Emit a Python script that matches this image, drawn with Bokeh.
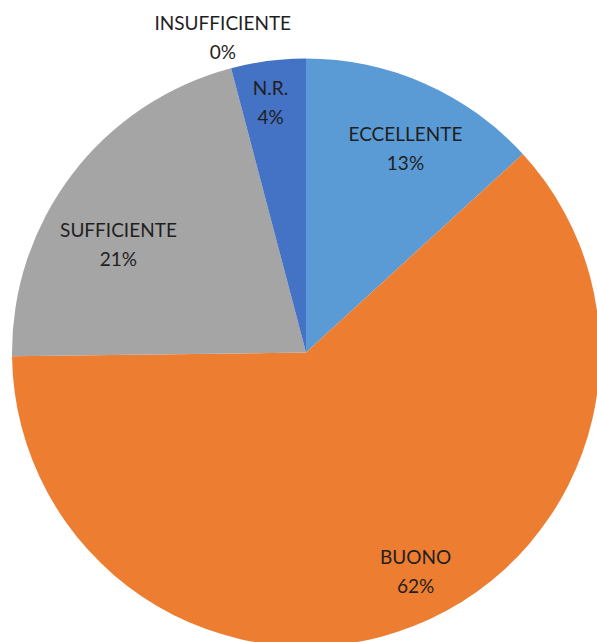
import math
from bokeh.plotting import figure
from bokeh.models import Range1d, ColumnDataSource
from bokeh.core.properties import value
from bokeh.embed import file_html
from bokeh.resources import INLINE

# ---- data ----
categories = ["ECCELLENTE", "BUONO", "SUFFICIENTE", "INSUFFICIENTE", "N.R."]
shares = [13.2, 61.6, 21.1, 0.0, 4.1]
colors = ["#5B9BD5", "#ED7D31", "#A5A5A5", "#FFC000", "#4472C4"]

# ---- layout (label placement, not data) ----
label_r_frac = [0.773, 0.833, 0.737, 1.111, 0.859]
label_angle_shift_deg = [2.2, -5.0, -7.2, 0.0, -0.7]

W, H = 597, 642
cx, cy, R = 305.5, -352.0, 294.0

total = sum(shares)
starts, ends = [], []
acc = 0.0
for s in shares:
    a0 = math.pi / 2 - 2 * math.pi * acc / total
    acc += s
    a1 = math.pi / 2 - 2 * math.pi * acc / total
    starts.append(a0)
    ends.append(a1)

p = figure(width=W, height=H, output_backend="svg", toolbar_location=None,
           x_range=Range1d(0, W), y_range=Range1d(-H, 0),
           min_border=0, outline_line_color=None)
p.axis.visible = False
p.grid.visible = False
p.background_fill_color = "white"
p.border_fill_color = "white"

idx = [i for i, s in enumerate(shares) if s > 0]
src = ColumnDataSource(dict(x=[cx] * len(idx), y=[cy] * len(idx),
                            start=[starts[i] for i in idx], end=[ends[i] for i in idx],
                            color=[colors[i] for i in idx]))
p.wedge(x="x", y="y", radius=R, start_angle="end", end_angle="start",
        direction="anticlock", fill_color="color", line_color=None, source=src)

lx, ly, names, pcts = [], [], [], []
for i, c in enumerate(categories):
    mid = (starts[i] + ends[i]) / 2 + math.radians(-label_angle_shift_deg[i])
    r = label_r_frac[i] * R
    lx.append(cx + r * math.cos(mid))
    ly.append(cy + r * math.sin(mid))
    names.append(c)
    pcts.append(f"{round(100 * shares[i] / total)}%")

lsrc = ColumnDataSource(dict(x=lx, y=ly, name=names, pct=pcts))
common = dict(text_font=value("Lato"), text_font_size="19px", text_color="#1f1f1f",
              text_align="center", text_baseline="middle", source=lsrc)
p.text(x="x", y="y", text="name", y_offset=-14.5, **common)
p.text(x="x", y="y", text="pct", y_offset=14.5, **common)

open("out.html", "w").write(file_html(p, INLINE))
